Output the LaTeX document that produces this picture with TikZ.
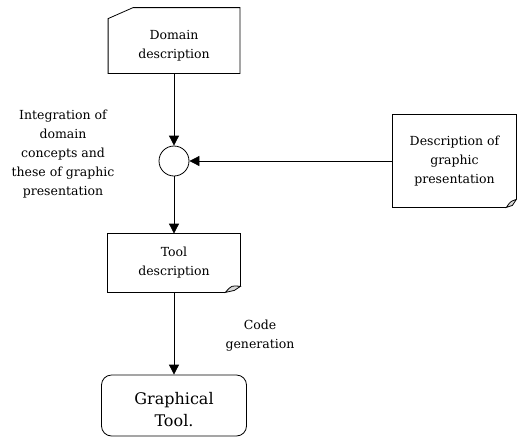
\documentclass[tikz,border=0pt]{standalone}
\usepackage{fontspec}
\setmainfont{DejaVu Serif}
\usetikzlibrary{calc,arrows.meta}
\begin{document}
\begin{tikzpicture}[x=1pt, y=-1pt, line width=0.8pt, line join=miter,
  txt/.style={align=center, font=\fontsize{12.5}{19}\selectfont},
  box/.style={txt, inner sep=0pt},
  flow/.style={-{Triangle[length=10pt,width=10pt]}}]
  \useasboundingbox (0,0) rectangle (517,437);
  % Domain description, top left corner cut off
  \node[box, minimum width=131, minimum height=65,
    label={[txt, yshift=-5pt]center:Domain\\description}] (dom) at (174,40.5) {};
  \draw (dom.south west) -- ($(dom.north west)+(0,11)$) -- ($(dom.north west)+(25,0)$)
    -- (dom.north east) -- (dom.south east) -- cycle;
  % Integration point
  \node[circle, draw, minimum size=30, inner sep=0pt] (join) at (174,161) {};
  % Description of graphic presentation, page with curled corner
  \node[box, minimum width=123, minimum height=92] (pres) at (454.5,161) {Description of\\graphic\\presentation};
  \draw ($(pres.south east)+(-10,0)$) -- (pres.south west) -- (pres.north west)
    -- (pres.north east) -- ($(pres.south east)+(0,-8)$);
  \draw[fill=black!15] ($(pres.south east)+(-10,0)$) .. controls ($(pres.south east)+(-6,-6)$)
    .. ($(pres.south east)+(0,-8)$) -- ($(pres.south east)+(-4,-2)$) -- cycle;
  % Tool description, page with curled corner
  \node[box, minimum width=132, minimum height=58] (tool) at (174,263) {Tool\\description};
  \draw ($(tool.south east)+(-15,0)$) -- (tool.south west) -- (tool.north west)
    -- (tool.north east) -- ($(tool.south east)+(0,-6)$);
  \draw[fill=black!15] ($(tool.south east)+(-15,0)$) .. controls ($(tool.south east)+(-9,-7)$)
    .. ($(tool.south east)+(0,-6)$) -- ($(tool.south east)+(-6,-2)$) -- cycle;
  % Graphical tool
  \node[draw, rounded corners=10, minimum width=145, minimum height=61, inner sep=0pt,
    label={[align=center, font=\fontsize{16}{22}\selectfont, yshift=-4pt]center:Graphical\\Tool.}]
    (gt) at (174,405.5) {};
  % Connectors
  \draw[flow] (dom.south) -- (join.north);
  \draw[flow] (pres.west) -- (join.east);
  \draw[flow] (join.south) -- (tool.north);
  \draw[flow] (tool.south) -- (gt.north);
  % Labels
  \node[txt] (integ) at (63,154) {Integration of\\domain\\concepts and\\these of graphic\\presentation};
  \node[txt] (codegen) at (260,335.5) {Code\\generation};
\end{tikzpicture}
\end{document}
